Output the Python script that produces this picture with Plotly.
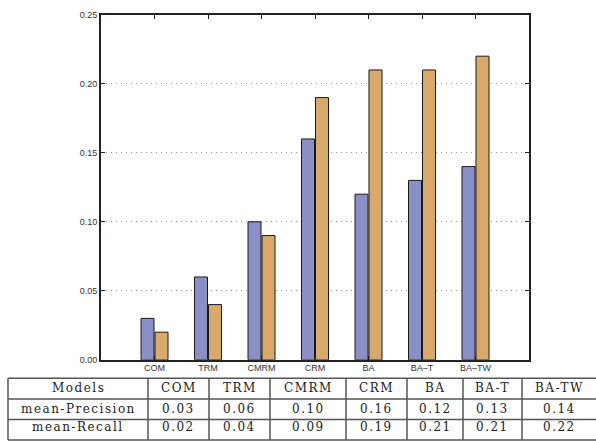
import plotly.graph_objects as go

models = ["COM", "TRM", "CMRM", "CRM", "BA", "BA-T", "BA-TW"]
axis_labels = ["COM", "TRM", "CMRM", "CRM", "BA", "BA–T", "BA–TW"]
mean_precision = [0.03, 0.06, 0.10, 0.16, 0.12, 0.13, 0.14]
mean_recall = [0.02, 0.04, 0.09, 0.19, 0.21, 0.21, 0.22]
y_ticks = [0.00, 0.05, 0.10, 0.15, 0.20, 0.25]

W, H = 596, 442
BLUE = "#8a90c6"
ORANGE = "#d9a96b"

fig = go.Figure()
fig.add_trace(go.Bar(x=axis_labels, y=mean_precision, name="mean-Precision",
                     marker=dict(color=BLUE, line=dict(color="#1a1a1a", width=1))))
fig.add_trace(go.Bar(x=axis_labels, y=mean_recall, name="mean-Recall",
                     marker=dict(color=ORANGE, line=dict(color="#1a1a1a", width=1))))

px_l, px_r, px_t, px_b = 101, 529, 10, 363

fig.update_layout(
    width=W, height=H,
    margin=dict(l=0, r=0, t=0, b=0),
    paper_bgcolor="white", plot_bgcolor="white",
    showlegend=False,
    barmode="group", bargap=0.477, bargroupgap=0.07,
    xaxis=dict(domain=[px_l / W, px_r / W], range=[-1, 7], type="category",
               showline=True, linecolor="#222", linewidth=2, mirror="ticks",
               ticks="inside", ticklen=4, tickcolor="#222",
               ticklabelstandoff=-2,
               tickfont=dict(family="Liberation Sans", size=9, color="#333"),
               showgrid=False, zeroline=False, fixedrange=True),
    yaxis=dict(domain=[1 - px_b / H, 1 - px_t / H], range=[0, 0.25],
               tickvals=y_ticks, tickformat=".2f",
               showline=True, linecolor="#222", linewidth=2, mirror="ticks",
               ticks="inside", ticklen=4, tickcolor="#222",
               tickfont=dict(family="Liberation Sans", size=9, color="#333"),
               showgrid=True, gridcolor="#999999", griddash="1px,4px", gridwidth=1,
               zeroline=False, fixedrange=True),
)

col_edges = [8, 148, 209, 270, 346, 407, 463, 522, 640]
row_edges = [382, 403, 424, 445]
text_y = [392, 413, 432]
rows = [["Models"] + models,
        ["mean-Precision"] + [f"{v:.2f}" for v in mean_precision],
        ["mean-Recall"] + [f"{v:.2f}" for v in mean_recall]]

line_style = dict(color="#555", width=1.5)
for x in col_edges:
    fig.add_shape(type="line", xref="paper", yref="paper",
                  x0=x / W, x1=x / W, y0=1 - row_edges[0] / H, y1=1 - row_edges[-1] / H,
                  line=line_style)
for y in row_edges:
    fig.add_shape(type="line", xref="paper", yref="paper",
                  x0=col_edges[0] / W, x1=col_edges[-1] / W, y0=1 - y / H, y1=1 - y / H,
                  line=line_style)

for r, row in enumerate(rows):
    yc = text_y[r]
    for c, txt in enumerate(row):
        xc = (col_edges[c] + col_edges[c + 1]) / 2 if c < len(row) - 1 else 559
        fig.add_annotation(xref="paper", yref="paper", x=xc / W, y=1 - yc / H,
                           text=f'<span style="letter-spacing:1.5px">{txt}</span>',
                           showarrow=False, xanchor="center", yanchor="middle",
                           borderpad=0,
                           font=dict(family="DejaVu Serif", size=12, color="#222"))

fig.write_html("out.html", config={"displayModeBar": False},
               post_script="document.body.style.margin='0';document.body.style.overflow='hidden';")
